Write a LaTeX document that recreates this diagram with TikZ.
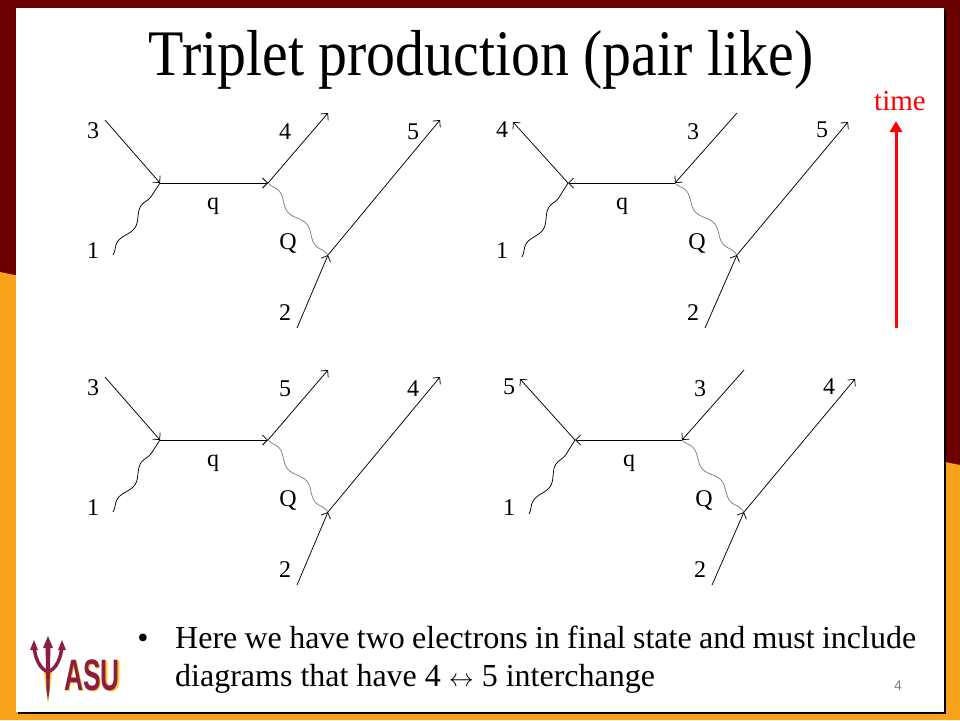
\documentclass[tikz,border=0pt]{standalone}
\usepackage{fontspec}
\setmainfont{Liberation Serif}
\newfontfamily\titlefont[FakeStretch=0.89]{Liberation Serif}
\newfontfamily\logofont[FakeStretch=0.6]{Liberation Sans}
\newfontfamily\numfont{Liberation Sans}
\usetikzlibrary{arrows.meta,decorations.pathmorphing}
\definecolor{asured}{HTML}{6B0000}
\definecolor{asuorange}{HTML}{F8A31B}
\definecolor{asumaroon}{HTML}{8C1D40}
\definecolor{asugold}{HTML}{FFC627}
\tikzset{
  fermion/.style={-{Straight Barb[length=5pt,width=10pt]},line width=0.75pt},
  photon/.style={line width=0.75pt,decorate,decoration={snake,segment length=43pt,amplitude=3.5pt}},
  lbl/.style={inner sep=0pt,font=\fontsize{24}{24}\selectfont},
}
\begin{document}
\begin{tikzpicture}[x=1pt,y=-1pt]
      \useasboundingbox (0,0) rectangle (960,720);
      % slide frame
      \fill[asured] (0,0) rectangle (960,720);
      \fill[asuorange] (0,272)--(960,465)--(960,720)--(0,720)--cycle;
      \fill[black] (18,10) rectangle (946,714);
      \fill[white] (16,8) rectangle (944,712);
      \node[font=\titlefont\fontsize{65}{65}\selectfont,anchor=base] (title) at (481,75) {Triplet production (pair like)};
      % top left
      \coordinate (a1) at (160,183);
      \coordinate (a2) at (268,183);
      \coordinate (aw) at (328,255);
      \coordinate (a3) at (105,120);
      \coordinate (a4) at (328,113);
      \coordinate (a5) at (440,120);
      \coordinate (ai) at (113,255);
      \coordinate (aj) at (297,328);
      \draw[fermion] (a3) -- (a1);
      \draw[fermion] (a1) -- (a2);
      \draw[fermion] (a2) -- (a4);
      \draw[fermion] (aj) -- (aw);
      \draw[fermion] (aw) -- (a5);
      \draw[photon] (ai) -- (a1);
      \draw[photon,gray] (a2) -- (aw);
      \node[lbl] (la3) at (93,131) {3};
      \node[lbl] (la4) at (285,132) {4};
      \node[lbl] (la5) at (413,132) {5};
      \node[lbl] (laq) at (213,206) {q};
      \node[lbl] (laQ) at (288,243) {Q};
      \node[lbl] (la1) at (93,251) {1};
      \node[lbl] (la2) at (285,313) {2};
      % top right
      \coordinate (b1) at (568,183);
      \coordinate (b2) at (675,183);
      \coordinate (bw) at (737,255);
      \coordinate (b3) at (737,113);
      \coordinate (b4) at (513,122);
      \coordinate (b5) at (848,122);
      \coordinate (bi) at (522,257);
      \coordinate (bj) at (705,328);
      \draw[fermion] (b1) -- (b4);
      \draw[fermion] (b3) -- (b2);
      \draw[fermion] (b2) -- (b1);
      \draw[fermion] (bj) -- (bw);
      \draw[fermion] (bw) -- (b5);
      \draw[photon] (bi) -- (b1);
      \draw[photon,gray] (b2) -- (bw);
      \node[lbl] (lb4) at (502,130) {4};
      \node[lbl] (lb3) at (693,132) {3};
      \node[lbl] (lb5) at (822,130) {5};
      \node[lbl] (lbq) at (622,206) {q};
      \node[lbl] (lbQ) at (697,243) {Q};
      \node[lbl] (lb1) at (502,251) {1};
      \node[lbl] (lb2) at (693,313) {2};
      % bottom left
      \begin{scope}[shift={(0,257)}]
      \coordinate (c1) at (160,183);
      \coordinate (c2) at (268,183);
      \coordinate (cw) at (328,255);
      \coordinate (c3) at (105,120);
      \coordinate (c5) at (328,113);
      \coordinate (c4) at (440,120);
      \coordinate (ci) at (113,255);
      \coordinate (cj) at (297,328);
      \draw[fermion] (c3) -- (c1);
      \draw[fermion] (c1) -- (c2);
      \draw[fermion] (c2) -- (c5);
      \draw[fermion] (cj) -- (cw);
      \draw[fermion] (cw) -- (c4);
      \draw[photon] (ci) -- (c1);
      \draw[photon,gray] (c2) -- (cw);
      \node[lbl] (lc3) at (93,131) {3};
      \node[lbl] (lc5) at (285,132) {5};
      \node[lbl] (lc4) at (413,132) {4};
      \node[lbl] (lcq) at (213,206) {q};
      \node[lbl] (lcQ) at (288,243) {Q};
      \node[lbl] (lc1) at (93,251) {1};
      \node[lbl] (lc2) at (285,313) {2};
      \end{scope}
      % bottom right
      \begin{scope}[shift={(7,257)}]
      \coordinate (d1) at (568,183);
      \coordinate (d2) at (675,183);
      \coordinate (dw) at (737,255);
      \coordinate (d3) at (737,113);
      \coordinate (d5) at (513,122);
      \coordinate (d4) at (848,122);
      \coordinate (di) at (522,257);
      \coordinate (dj) at (705,328);
      \draw[fermion] (d1) -- (d5);
      \draw[fermion] (d3) -- (d2);
      \draw[fermion] (d2) -- (d1);
      \draw[fermion] (dj) -- (dw);
      \draw[fermion] (dw) -- (d4);
      \draw[photon] (di) -- (d1);
      \draw[photon,gray] (d2) -- (dw);
      \node[lbl] (ld5) at (502,130) {5};
      \node[lbl] (ld3) at (693,132) {3};
      \node[lbl] (ld4) at (822,130) {4};
      \node[lbl] (ldq) at (622,206) {q};
      \node[lbl] (ldQ) at (697,243) {Q};
      \node[lbl] (ld1) at (502,251) {1};
      \node[lbl] (ld2) at (693,313) {2};
      \end{scope}
      % time arrow
      \coordinate (t0) at (896,328);
      \coordinate (t1) at (896,121);
      \draw[red,line width=3pt,-{Triangle[length=11pt,width=12pt]}] (t0) -- (t1);
      \node[lbl,red,font=\fontsize{29}{29}\selectfont] (time) at (900,101) {time};
      % bullet text
      \node[anchor=base,inner sep=0pt,font=\fontsize{32}{32}\selectfont] (dot) at (143,648) {\textbullet};
      \node[anchor=base west,inner sep=0pt,font=\fontsize{32}{32}\selectfont] (line1) at (175,648) {\makebox[741pt][s]{Here we have two electrons in final state and must include}};
      \node[anchor=base west,inner sep=0pt,font=\fontsize{32}{32}\selectfont] (line2) at (175,686) {diagrams that have 4 $\leftrightarrow$ 5 interchange};
      \node[inner sep=0pt,gray,font=\numfont\fontsize{14}{14}\selectfont] (page) at (898,686) {4};
      % logo
      \fill[asugold] (44,672)--(52,672)--(48,704)--cycle;
      \fill[asumaroon] (45.5,645)--(50.5,645)--(49.5,690)--(48,700)--(46.5,690)--cycle;
      \fill[asumaroon] (48,636)--(53,648)--(43,648)--cycle;
      \draw[asumaroon,line width=3.5pt] (34,646) .. controls (36,666) and (44,670) .. (48,672);
      \draw[asumaroon,line width=3.5pt] (62,646) .. controls (60,666) and (52,670) .. (48,672);
      \fill[asumaroon] (34,640)--(38,650)--(30,650)--cycle;
      \fill[asumaroon] (62,640)--(66,650)--(58,650)--cycle;
      \node[anchor=base west,inner sep=0pt,asugold,font=\logofont\bfseries\fontsize{44}{44}\selectfont] (asu0) at (65.5,691) {ASU};
      \node[anchor=base west,inner sep=0pt,asumaroon,font=\logofont\bfseries\fontsize{44}{44}\selectfont] (asu) at (64,690) {ASU};
    \end{tikzpicture}
\end{document}
